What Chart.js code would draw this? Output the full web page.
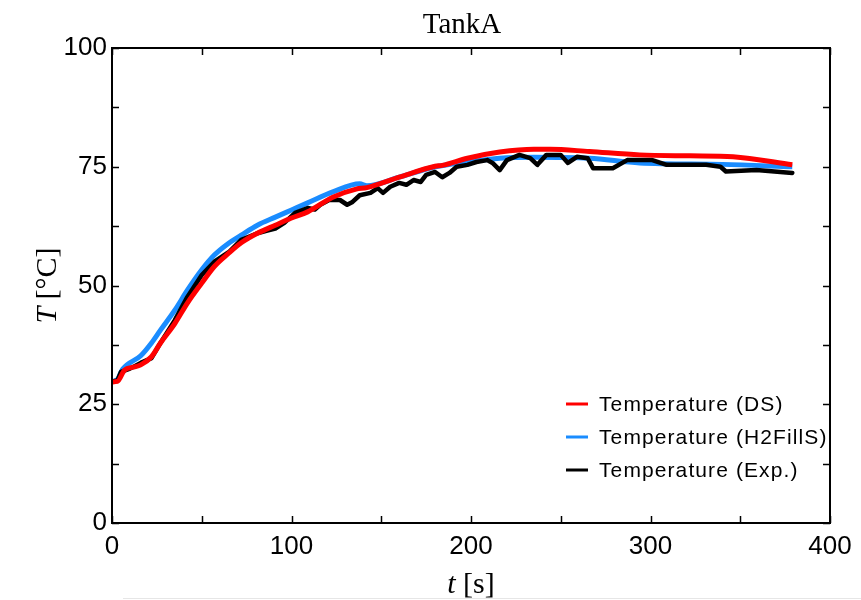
<!DOCTYPE html>
<html>
<head>
<meta charset="utf-8">
<script src="https://cdn.jsdelivr.net/npm/chart.js@4"></script>
<style>
  html, body { margin: 0; padding: 0; background: #fff; }
  #wrap { width: 861px; height: 600px; }
</style>
</head>
<body>
<div id="wrap"><canvas id="chart" width="861" height="600"></canvas></div>
<script>
// ===== DATA =====
const dsTime = [0, 3, 7, 12, 16, 22, 27, 35, 42, 50, 57, 65, 72, 81, 91, 100, 109, 123, 136, 142, 160, 180, 184, 198, 216, 235, 244, 266, 294, 322, 346, 379];
const dsTemp = [29.7, 29.8, 32.2, 32.8, 33.3, 35, 37.9, 42, 46.3, 50.5, 54, 56.8, 59, 61, 62.7, 64.2, 65.5, 68.6, 70.3, 70.6, 72.8, 75.1, 75.3, 76.8, 78.1, 78.7, 78.7, 78.2, 77.5, 77.3, 77.1, 75.4];

const h2Time = [0, 3, 6, 16, 22, 27, 35, 42, 50, 57, 65, 72, 81, 91, 100, 109, 123, 138, 142, 160, 179, 198, 216, 235, 266, 294, 340, 379];
const h2Temp = [29.8, 30.2, 32.4, 35.2, 37.9, 40.6, 44.8, 49, 53.3, 56.4, 58.9, 60.6, 62.7, 64.4, 65.9, 67.4, 69.7, 71.4, 71.0, 72.8, 74.9, 76, 76.8, 77, 76.8, 75.8, 75.5, 75];

const expTime = [0, 3, 5, 10, 16, 22, 27, 35, 42, 50, 57, 65, 72, 81, 86, 91, 96, 102, 109, 113, 116, 121, 127, 131, 134, 138, 144, 148, 151, 155, 160, 164, 168, 172, 175, 180, 184, 188, 192, 198, 203, 209, 212, 216, 220, 227, 233, 237, 242, 250, 254, 259, 265, 268, 279, 287, 301, 309, 331, 339, 342, 359, 379];
const expTemp = [29.8, 30, 31.8, 32.5, 33.7, 34.7, 37.9, 42.7, 47.6, 52.2, 55, 57, 59.6, 61, 61.5, 62, 63.2, 65.3, 66.3, 66, 67, 68, 68, 67, 67.6, 69, 69.5, 70.5, 69.5, 70.8, 71.6, 71.2, 72.2, 71.8, 73.3, 73.9, 72.8, 73.7, 75, 75.4, 76, 76.4, 75.8, 74.3, 76.4, 77.5, 76.8, 75.4, 77.5, 77.5, 75.8, 77.1, 76.8, 74.7, 74.7, 76.4, 76.4, 75.4, 75.4, 75, 74, 74.3, 73.7];

const xTicks = [0, 100, 200, 300, 400];
const xMinor = [50, 150, 250, 350];
const yTicks = [0, 25, 50, 75, 100];
const yMinor = [12.5, 37.5, 62.5, 87.5];

const legendItems = [
  { label: "Temperature (DS)", color: "#ff0000" },
  { label: "Temperature (H2FillS)", color: "#1a8cff" },
  { label: "Temperature (Exp.)", color: "#000000" }
];

const toPoints = (xs, ys) => xs.map((x, i) => ({ x: x, y: ys[i] }));

// ===== FRAME, TICKS, TITLES, LEGEND =====
const decorPlugin = {
  id: "decor",
  afterDraw(chart) {
    const { ctx, chartArea: a, scales } = chart;
    const sx = scales.x, sy = scales.y;
    ctx.save();

    // frame
    ctx.strokeStyle = "#000";
    ctx.lineWidth = 2;
    ctx.strokeRect(a.left, a.top, a.right - a.left, a.bottom - a.top);

    // inward ticks on all four sides
    ctx.lineWidth = 1.5;
    ctx.beginPath();
    xTicks.concat(xMinor).forEach(v => {
      const px = Math.round(sx.getPixelForValue(v)) + 0.5;
      ctx.moveTo(px, a.bottom); ctx.lineTo(px, a.bottom - 7);
      ctx.moveTo(px, a.top); ctx.lineTo(px, a.top + 7);
    });
    yTicks.concat(yMinor).forEach(v => {
      const py = Math.round(sy.getPixelForValue(v)) + 0.5;
      ctx.moveTo(a.left, py); ctx.lineTo(a.left + 7, py);
      ctx.moveTo(a.right, py); ctx.lineTo(a.right - 7, py);
    });
    ctx.stroke();

    // faint rule along the bottom edge of the picture
    ctx.strokeStyle = "#e6e6e6";
    ctx.lineWidth = 1;
    ctx.beginPath();
    ctx.moveTo(123, 598.5); ctx.lineTo(861, 598.5);
    ctx.stroke();

    ctx.fillStyle = "#000";
    ctx.textBaseline = "alphabetic";

    // chart title
    ctx.font = "29px 'Liberation Serif'";
    ctx.textAlign = "center";
    ctx.fillText("TankA", 462, 33);

    // x axis title: italic t + " [s]"
    const xc = (a.left + a.right) / 2;
    ctx.font = "italic 30px 'Liberation Serif'";
    const wT = ctx.measureText("t").width;
    ctx.font = "30px 'Liberation Serif'";
    const wRest = ctx.measureText(" [s]").width;
    let x0 = xc - (wT + wRest) / 2;
    ctx.textAlign = "left";
    ctx.font = "italic 30px 'Liberation Serif'";
    ctx.fillText("t", x0, 593);
    ctx.font = "30px 'Liberation Serif'";
    ctx.fillText(" [s]", x0 + wT, 593);

    // y axis title: italic T + " [°C]", rotated
    ctx.save();
    ctx.translate(56, (a.top + a.bottom) / 2);
    ctx.rotate(-Math.PI / 2);
    ctx.font = "italic 30px 'Liberation Serif'";
    const wY = ctx.measureText("T").width;
    ctx.font = "30px 'Liberation Serif'";
    const wYr = ctx.measureText(" [°C]").width;
    x0 = -(wY + wYr) / 2;
    ctx.font = "italic 30px 'Liberation Serif'";
    ctx.fillText("T", x0, 0);
    ctx.font = "30px 'Liberation Serif'";
    ctx.fillText(" [°C]", x0 + wY, 0);
    ctx.restore();

    // legend inside the plot, lower right
    ctx.font = "21px 'Liberation Sans'";
    ctx.letterSpacing = "1.1px";
    ctx.textBaseline = "middle";
    ctx.textAlign = "left";
    legendItems.forEach((it, i) => {
      const y = 404 + i * 33;
      ctx.strokeStyle = it.color;
      ctx.lineWidth = 3;
      ctx.beginPath();
      ctx.moveTo(566, y); ctx.lineTo(588, y);
      ctx.stroke();
      ctx.fillStyle = "#000";
      ctx.fillText(it.label, 599, y + 1);
    });

    ctx.restore();
  }
};

new Chart(document.getElementById("chart"), {
  type: "line",
  data: {
    datasets: [
      {
        label: legendItems[0].label,
        data: toPoints(dsTime, dsTemp),
        borderColor: "#ff0000",
        borderWidth: 5,
        pointRadius: 0,
        cubicInterpolationMode: "monotone",
        order: 0
      },
      {
        label: legendItems[1].label,
        data: toPoints(h2Time, h2Temp),
        borderColor: "#1a8cff",
        borderWidth: 5,
        pointRadius: 0,
        cubicInterpolationMode: "monotone",
        order: 2
      },
      {
        label: legendItems[2].label,
        data: toPoints(expTime, expTemp),
        borderColor: "#000000",
        borderWidth: 4.5,
        borderJoinStyle: "round",
        borderCapStyle: "round",
        pointRadius: 0,
        tension: 0,
        order: 1
      }
    ]
  },
  options: {
    responsive: false,
    animation: false,
    layout: { padding: { top: 48, right: 31, left: 0, bottom: 0 } },
    plugins: {
      legend: { display: false },
      tooltip: { enabled: false }
    },
    scales: {
      x: {
        type: "linear",
        min: 0, max: 400,
        grid: { display: false, drawTicks: false },
        border: { display: false },
        ticks: { stepSize: 100, padding: 8, color: "#000", font: { family: "'Liberation Sans'", size: 26 } },
        afterFit: s => { s.height = 77; }
      },
      y: {
        min: 0, max: 100,
        grid: { display: false, drawTicks: false },
        border: { display: false },
        ticks: { stepSize: 25, padding: 5, color: "#000", font: { family: "'Liberation Sans'", size: 26 } },
        afterFit: s => { s.width = 112; }
      }
    }
  },
  plugins: [decorPlugin]
});
</script>
</body>
</html>
